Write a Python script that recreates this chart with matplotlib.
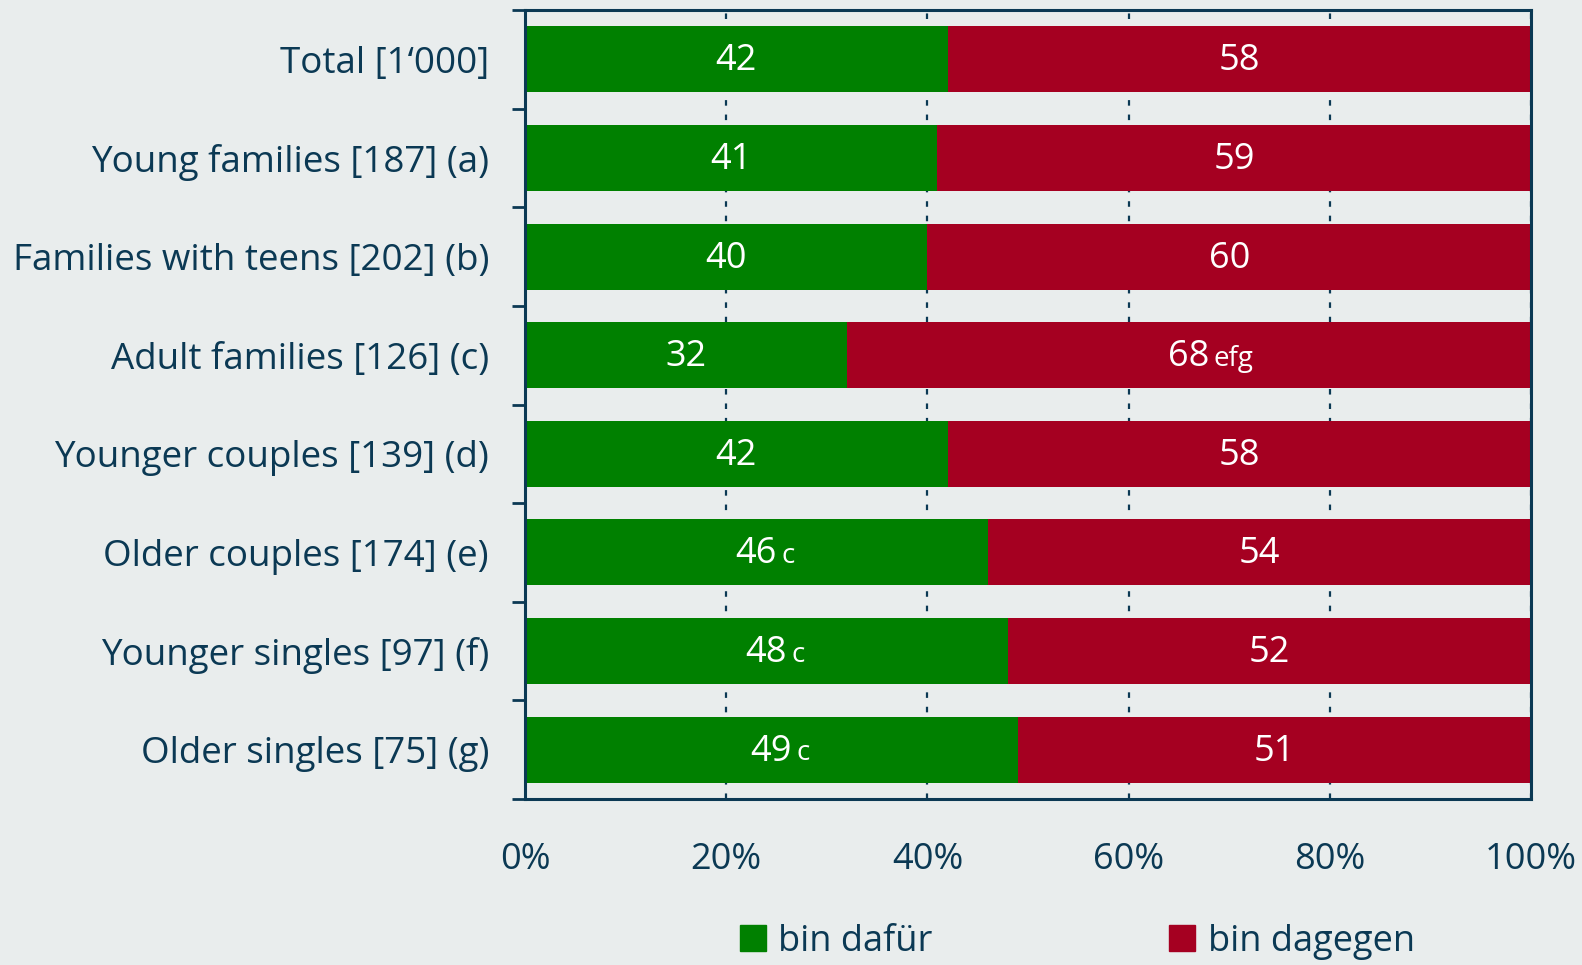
import matplotlib.pyplot as plt
from matplotlib.patches import Patch

# Daten
categories = ['Total [1‘000]', 'Young families [187] (a)', 'Families with teens [202] (b)',
              'Adult families [126] (c)', 'Younger couples [139] (d)', 'Older couples [174] (e)',
              'Younger singles [97] (f)', 'Older singles [75] (g)']
dafuer = [42, 41, 40, 32, 42, 46, 48, 49]
dagegen = [58, 59, 60, 68, 58, 54, 52, 51]
dafuer_sig = ['', '', '', '', '', 'c', 'c', 'c']
dagegen_sig = ['', '', '', 'efg', '', '', '', '']
series_names = ['bin dafür', 'bin dagegen']
xticks = [0, 20, 40, 60, 80, 100]

bg = '#E9EDED'
navy = '#0B3954'
green = '#008000'
red = '#A50021'

plt.rcParams['font.family'] = ['Open Sans', 'DejaVu Sans']

fig = plt.figure(figsize=(15.82, 9.65), dpi=100, facecolor=bg)
ax = fig.add_axes([525 / 1582, 1 - 799 / 965, (1531 - 525) / 1582, (799 - 10) / 965])
ax.set_facecolor(bg)

y = list(range(len(categories)))
ax.barh(y, dafuer, height=0.67, color=green, zorder=3)
ax.barh(y, dagegen, left=dafuer, height=0.67, color=red, zorder=3)

# Beschriftungen in den Balken
for i in y:
    for start, val, sig in [(0, dafuer[i], dafuer_sig[i]), (dafuer[i], dagegen[i], dagegen_sig[i])]:
        xc = start + val / 2
        t = ax.text(xc, i + 0.02, str(val), ha='center', va='center', color='white',
                    fontsize=26, zorder=4)
        if sig:
            ax.annotate(sig, xy=(1, 0.45), xycoords=t, xytext=(3, 0), textcoords='offset points',
                        ha='left', va='center', color='white', fontsize=20, zorder=4)

ax.set_xlim(0, 100)
ax.set_ylim(len(categories) - 0.5, -0.5)

ax.set_yticks(y)
ax.set_yticklabels(categories)
ax.set_yticks([k - 0.5 for k in range(len(categories) + 1)], minor=True)
ax.tick_params(axis='y', which='major', length=0, pad=26, labelsize=26.5, labelcolor=navy)
ax.tick_params(axis='y', which='minor', length=9.5, width=2, color=navy, direction='out')

ax.set_xticks(xticks)
ax.set_xticklabels([f'{v}%' for v in xticks])
ax.tick_params(axis='x', length=0, pad=31, labelsize=26, labelcolor=navy)

ax.grid(axis='x', linestyle=(0, (2.5, 4)), color=navy, linewidth=1.6, zorder=1)
for s in ax.spines.values():
    s.set_color(navy)
    s.set_linewidth(2.2)
    s.set_zorder(5)

handles = [Patch(color=green), Patch(color=red)]
leg = fig.legend(handles, series_names, loc='center', bbox_to_anchor=(0.681, 0.024), ncol=2,
                 frameon=False, fontsize=26, handlelength=0.72, handleheight=0.72,
                 handletextpad=0.35, columnspacing=6.55, labelcolor=navy, borderpad=0.1)

fig.savefig('out.png', dpi=100, facecolor=bg)
